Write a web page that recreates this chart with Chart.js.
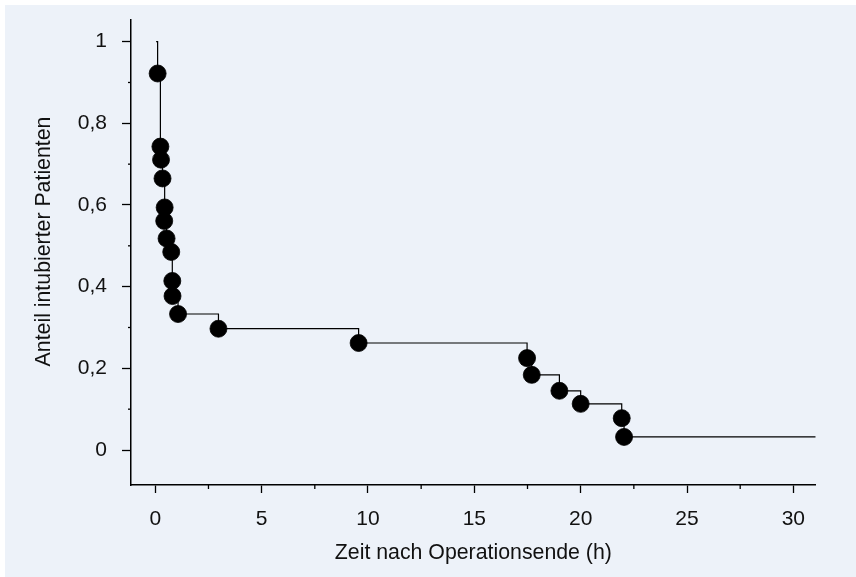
<!DOCTYPE html>
<html>
<head>
<meta charset="utf-8">
<script src="https://cdn.jsdelivr.net/npm/chart.js@4.4.1/dist/chart.umd.min.js"></script>
<style>
html,body{margin:0;padding:0;background:#fff;}
#wrap{position:relative;width:856px;height:577px;background:#fff;overflow:hidden;}
#panel{position:absolute;left:5px;top:5px;right:0;bottom:0;background:#EDF2F9;}
#c{position:absolute;left:0;top:0;}
</style>
</head>
<body>
<div id="wrap"><div id="panel"></div><canvas id="c" width="856" height="577"></canvas></div>
<script>
// ---- data ----
const eventTimes  = [0.11, 0.24, 0.27, 0.34, 0.44, 0.42, 0.53, 0.75, 0.80, 0.81, 1.07, 2.97, 9.56, 17.48, 17.70, 19.00, 20.00, 21.93, 22.04];
const eventLevels = [0.922, 0.743, 0.711, 0.665, 0.594, 0.561, 0.518, 0.485, 0.414, 0.377, 0.333, 0.297, 0.262, 0.225, 0.184, 0.145, 0.113, 0.078, 0.032];
const curveStartTime = 0.04;
const curveStartLevel = 1;
const lastFollowUpTime = 31.05;

const xTickValues = [0, 5, 10, 15, 20, 25, 30];
const xTickLabels = ['0', '5', '10', '15', '20', '25', '30'];
const xMinorTicks = [2.5, 7.5, 12.5, 17.5, 22.5, 27.5];
const yTickValues = [0, 0.2, 0.4, 0.6, 0.8, 1];
const yTickLabels = ['0', '0,2', '0,4', '0,6', '0,8', '1'];
const yMinorTicks = [0.1, 0.3, 0.5, 0.7, 0.9];

const xTitle = 'Zeit nach Operationsende (h)';
const yTitle = 'Anteil intubierter Patienten';

// ---- build datasets ----
const dots = eventTimes.map((t, i) => ({x: t, y: eventLevels[i]}));
const curve = [{x: curveStartTime, y: curveStartLevel}]
  .concat(dots)
  .concat([{x: lastFollowUpTime, y: eventLevels[eventLevels.length - 1]}]);

function labelFor(values, labels, v) {
  const i = values.findIndex(t => Math.abs(t - v) < 1e-6);
  return i >= 0 ? labels[i] : '';
}

const FONT_FAMILY = '"Liberation Sans", Arial, Helvetica, sans-serif';
const FONT_SIZE = 21;
const TITLE_SIZE = 21.3;
const TEXT_COLOR = '#111';

const minorTickPlugin = {
  id: 'minorTicks',
  afterDraw(chart) {
    const ctx = chart.ctx;
    const xs = chart.scales.x, ys = chart.scales.y;
    ctx.save();
    ctx.strokeStyle = '#000';
    ctx.lineWidth = 1.3;
    xMinorTicks.forEach(v => {
      const px = xs.getPixelForValue(v);
      ctx.beginPath(); ctx.moveTo(px, xs.top); ctx.lineTo(px, xs.top + 4); ctx.stroke();
    });
    yMinorTicks.forEach(v => {
      const py = ys.getPixelForValue(v);
      ctx.beginPath(); ctx.moveTo(ys.right, py); ctx.lineTo(ys.right - 3, py); ctx.stroke();
    });
    ctx.restore();
  }
};

// vertical axis title (slightly above the axis centre, as in the reference)
const yTitlePlugin = {
  id: 'yAxisTitle',
  afterDraw(chart) {
    const ctx = chart.ctx, a = chart.chartArea;
    ctx.save();
    ctx.font = TITLE_SIZE + 'px ' + FONT_FAMILY;
    ctx.fillStyle = TEXT_COLOR;
    ctx.textAlign = 'center';
    ctx.textBaseline = 'middle';
    ctx.translate(44.4, (a.top + a.bottom) / 2 - 11);
    ctx.rotate(-Math.PI / 2);
    ctx.fillText(yTitle, 0, 0);
    ctx.restore();
  }
};

Chart.defaults.font.family = FONT_FAMILY;
Chart.defaults.font.size = FONT_SIZE;
Chart.defaults.color = TEXT_COLOR;

function noScalePadding(scale) {
  scale.paddingTop = 0;
  scale.paddingBottom = 0;
  scale.paddingLeft = 0;
  scale.paddingRight = 0;
}

new Chart(document.getElementById('c'), {
  type: 'scatter',
  data: {
    datasets: [
      {
        label: 'Ereignisse',
        data: dots,
        showLine: false,
        pointStyle: 'circle',
        pointRadius: 8.5,
        pointHoverRadius: 8.5,
        pointBorderWidth: 0.8,
        backgroundColor: '#000',
        borderColor: '#000'
      },
      {
        label: 'Kaplan-Meier',
        data: curve,
        showLine: true,
        stepped: 'before',
        borderColor: '#000',
        borderWidth: 1.2,
        pointRadius: 0,
        fill: false
      }
    ]
  },
  options: {
    responsive: false,
    animation: false,
    events: [],
    layout: {autoPadding: false, padding: {top: 20, right: 40.3, left: 0, bottom: 0}},
    plugins: {legend: {display: false}, tooltip: {enabled: false}},
    scales: {
      x: {
        type: 'linear',
        min: -1.142,
        max: 31.05,
        afterFit(scale) { scale.height = 92; noScalePadding(scale); },
        ticks: {
          stepSize: 5,
          includeBounds: false,
          padding: 14,
          maxRotation: 0,
          callback: v => labelFor(xTickValues, xTickLabels, v)
        },
        grid: {drawOnChartArea: false, drawTicks: true, tickLength: 8, tickColor: '#000', tickWidth: 1.3},
        border: {display: true, color: '#000', width: 1.5},
        title: {display: true, text: xTitle, font: {size: TITLE_SIZE}, padding: {top: 0, bottom: 11.2}}
      },
      y: {
        type: 'linear',
        min: -0.0857,
        max: 1.053,
        afterFit(scale) { scale.width = 131; noScalePadding(scale); },
        ticks: {
          stepSize: 0.2,
          includeBounds: false,
          padding: 15,
          callback: v => labelFor(yTickValues, yTickLabels, v)
        },
        grid: {drawOnChartArea: false, drawTicks: true, tickLength: 9, tickColor: '#000', tickWidth: 1.3},
        border: {display: true, color: '#000', width: 1.5},
        title: {display: false, text: yTitle}
      }
    }
  },
  plugins: [minorTickPlugin, yTitlePlugin]
});
</script>
</body>
</html>
